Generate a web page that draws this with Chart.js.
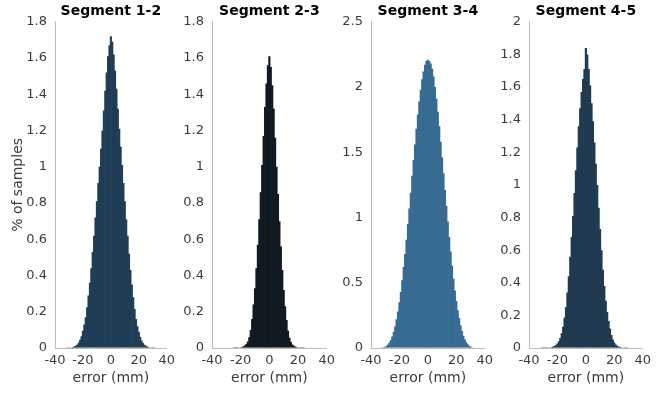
<!DOCTYPE html>
<html>
<head>
<meta charset="utf-8">
<script src="https://cdn.jsdelivr.net/npm/chart.js@4.4.1/dist/chart.umd.min.js"></script>
<style>
  body { margin: 0; background: #fff; width: 656px; height: 394px; overflow: hidden; position: relative; }
  canvas { position: absolute; top: 0; }
</style>
</head>
<body>
<canvas id="seg12" width="180" height="394" style="left:0px"></canvas>
<canvas id="seg23" width="168" height="394" style="left:172px"></canvas>
<canvas id="seg34" width="167" height="394" style="left:331px"></canvas>
<canvas id="seg45" width="167" height="394" style="left:489px"></canvas>
<script>
/* Histogram bin centres, error in mm */
const errorBins = [-32, -31, -30, -29, -28, -27, -26, -25, -24, -23, -22, -21, -20, -19, -18, -17,
  -16, -15, -14, -13, -12, -11, -10, -9, -8, -7, -6, -5, -4, -3, -2, -1, 0,
  1, 2, 3, 4, 5, 6, 7, 8, 9, 10, 11, 12, 13, 14, 15, 16,
  17, 18, 19, 20, 21, 22, 23, 24, 25, 26, 27, 28, 29, 30, 31, 32];

/* % of samples per bin, one list per segment */
const seg12 = [0, 0.001, 0.002, 0.003, 0.004, 0.006, 0.009, 0.013, 0.02, 0.03, 0.045, 0.065, 0.095, 0.13, 0.17, 0.225,
  0.29, 0.36, 0.44, 0.53, 0.62, 0.72, 0.81, 0.91, 1.0, 1.1, 1.2, 1.31, 1.42, 1.52, 1.61, 1.67, 1.72,
  1.69, 1.62, 1.53, 1.43, 1.32, 1.21, 1.11, 1.01, 0.91, 0.81, 0.71, 0.62, 0.52, 0.43, 0.35, 0.28,
  0.215, 0.16, 0.12, 0.09, 0.062, 0.042, 0.028, 0.018, 0.012, 0.008, 0.005, 0.003, 0.002, 0.001, 0.001, 0];

const seg23 = [0, 0, 0, 0, 0, 0, 0, 0.001, 0.001, 0.001, 0.002, 0.003, 0.004, 0.006, 0.009, 0.014,
  0.022, 0.036, 0.06, 0.1, 0.16, 0.24, 0.33, 0.44, 0.57, 0.71, 0.86, 1.01, 1.17, 1.33, 1.46, 1.56, 1.61,
  1.55, 1.45, 1.32, 1.16, 1.0, 0.85, 0.7, 0.56, 0.43, 0.32, 0.23, 0.155, 0.095, 0.057, 0.034, 0.02,
  0.012, 0.008, 0.005, 0.003, 0.002, 0.001, 0.001, 0.001, 0, 0, 0, 0, 0, 0, 0, 0];

const seg34 = [0.002, 0.005, 0.01, 0.017, 0.027, 0.042, 0.062, 0.088, 0.122, 0.165, 0.22, 0.28, 0.35, 0.43, 0.52, 0.62,
  0.72, 0.83, 0.95, 1.07, 1.19, 1.32, 1.44, 1.56, 1.68, 1.79, 1.89, 1.98, 2.06, 2.12, 2.17, 2.2, 2.21,
  2.2, 2.18, 2.14, 2.08, 2.0, 1.91, 1.81, 1.7, 1.58, 1.46, 1.34, 1.21, 1.09, 0.97, 0.85, 0.74,
  0.63, 0.53, 0.44, 0.36, 0.29, 0.23, 0.175, 0.13, 0.093, 0.065, 0.044, 0.029, 0.018, 0.011, 0.006, 0.003];

const seg45 = [0, 0.001, 0.001, 0.001, 0.002, 0.002, 0.003, 0.004, 0.006, 0.009, 0.013, 0.019, 0.028, 0.042, 0.062, 0.09,
  0.13, 0.185, 0.25, 0.34, 0.44, 0.56, 0.68, 0.81, 0.95, 1.09, 1.23, 1.36, 1.47, 1.57, 1.65, 1.71, 1.84,
  1.8, 1.71, 1.61, 1.5, 1.39, 1.26, 1.13, 1.0, 0.86, 0.73, 0.6, 0.48, 0.38, 0.29, 0.22, 0.165,
  0.12, 0.08, 0.052, 0.034, 0.022, 0.014, 0.009, 0.006, 0.004, 0.003, 0.002, 0.001, 0.001, 0, 0, 0];

const segTitles = ['Segment 1-2', 'Segment 2-3', 'Segment 3-4', 'Segment 4-5'];
const xTicks = [-40, -20, 0, 20, 40];

const fontFamily = "'DejaVu Sans', sans-serif";
const tickColor = '#3c3c3c';
const axisColor = '#bdbdbd';

function makePanel(canvasId, title, values, color, yMax, yStep, yWidth, padRight, yTitle) {
  const ctx = document.getElementById(canvasId).getContext('2d');
  const points = errorBins.map((x, i) => ({ x: x, y: values[i] }));

  return new Chart(ctx, {
    type: 'bar',
    data: {
      datasets: [{
        data: points,
        backgroundColor: color,
        borderWidth: 0,
        // bars slightly wider than a bin so neighbours overlap and no seams show
        barPercentage: 1.5,
        categoryPercentage: 1
      }]
    },
    options: {
      responsive: false,
      animation: false,
      devicePixelRatio: 1,
      layout: { padding: { left: 0, right: padRight, top: 0, bottom: 0 } },
      plugins: {
        legend: { display: false },
        tooltip: { enabled: false },
        title: {
          display: true,
          text: title,
          fullSize: false,
          color: '#000',
          font: { family: fontFamily, size: 14, weight: 'bold' },
          padding: { top: 3, bottom: 2 }
        }
      },
      scales: {
        x: {
          type: 'linear',
          min: -40,
          max: 40,
          offset: false,
          afterBuildTicks: (scale) => { scale.ticks = xTicks.map(v => ({ value: v })); },
          afterFit: (scale) => { scale.height = 46; },
          grid: { drawOnChartArea: false, drawTicks: false },
          border: { display: true, color: axisColor, width: 1 },
          ticks: {
            autoSkip: false,
            maxRotation: 0,
            padding: 5,
            color: tickColor,
            font: { family: fontFamily, size: 13 }
          },
          title: {
            display: true,
            text: 'error (mm)',
            color: tickColor,
            font: { family: fontFamily, size: 14 },
            padding: { top: 0, bottom: 7 }
          }
        },
        y: {
          min: 0,
          max: yMax,
          afterFit: (scale) => { scale.width = yWidth; },
          grid: { drawOnChartArea: false, drawTicks: false },
          border: { display: true, color: axisColor, width: 1 },
          ticks: {
            stepSize: yStep,
            padding: 8,
            color: tickColor,
            font: { family: fontFamily, size: 13 },
            callback: (value) => String(Number(value.toFixed(2)))
          },
          title: {
            display: yTitle,
            text: '% of samples',
            color: tickColor,
            font: { family: fontFamily, size: 14 },
            padding: { top: 10, bottom: 0 }
          }
        }
      }
    }
  });
}

makePanel('seg12', segTitles[0], seg12, '#1f3d56', 1.8, 0.2, 55, 10, true);
makePanel('seg23', segTitles[1], seg23, '#111a21', 1.8, 0.2, 40, 10, false);
makePanel('seg34', segTitles[2], seg34, '#386b92', 2.5, 0.5, 40, 10, false);
makePanel('seg45', segTitles[3], seg45, '#1f3a51', 2, 0.2, 40, 9, false);
</script>
</body>
</html>
